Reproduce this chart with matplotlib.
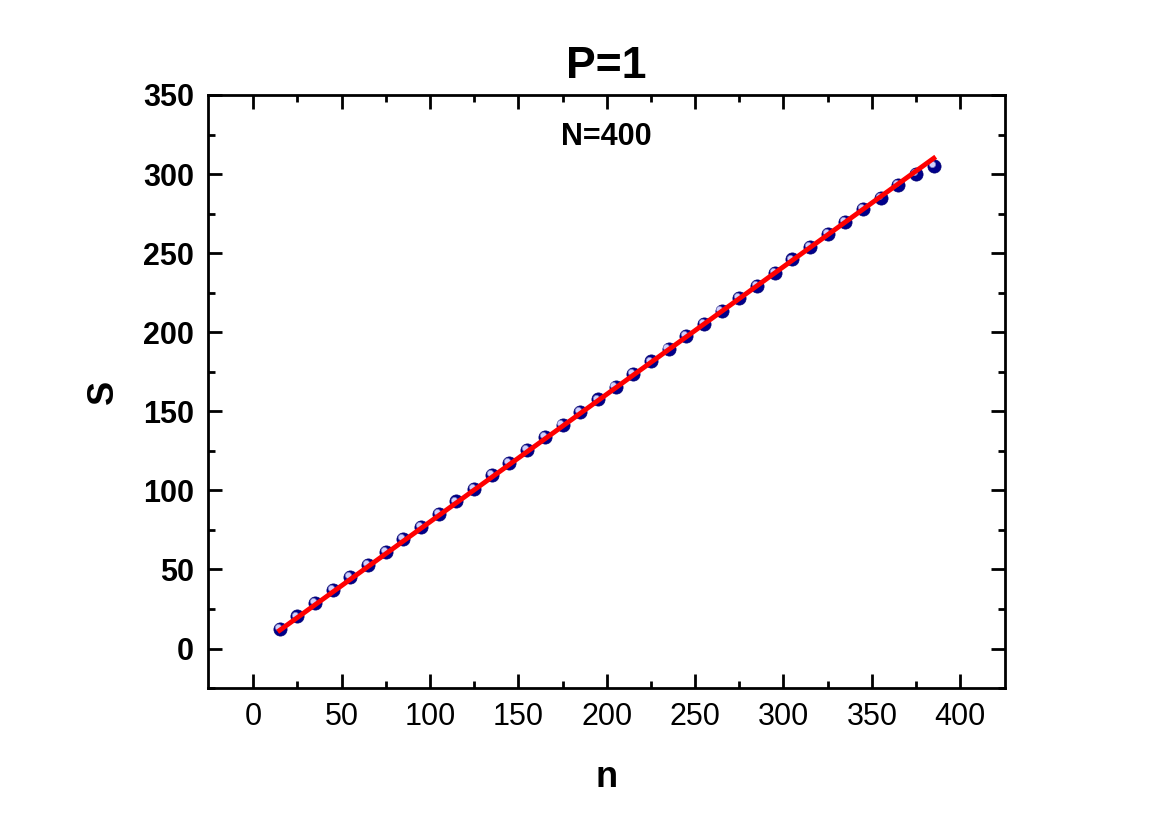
import numpy as np
import matplotlib.pyplot as plt
from matplotlib.ticker import MultipleLocator, FixedLocator

plt.rcParams['font.family'] = ['Liberation Sans', 'DejaVu Sans']

# data
n = [15, 25, 35, 45, 55, 65, 75, 85, 95, 105, 115, 125, 135, 145, 155, 165,
     175, 185, 195, 205, 215, 225, 235, 245, 255, 265, 275, 285, 295, 305,
     315, 325, 335, 345, 355, 365, 375, 385]
S = [12.5, 20.3, 28.7, 37, 45, 53, 61, 69, 77, 85, 93, 101, 109.5, 117.5,
     125.5, 133.5, 141.5, 149.5, 157.5, 165.5, 173.5, 181.5, 189.5, 197.5,
     205.5, 213.5, 221.5, 229.5, 237.5, 246, 254, 262, 270, 278, 285, 293,
     300, 305]
fit_n = [15, 385]
fit_s = [11.5, 310]

fig = plt.figure(figsize=(11.69, 8.26), dpi=100)
ax = fig.add_axes([0.178, 0.167, 0.682, 0.718])

# spheres: dark body + light highlight
ax.plot(n, S, 'o', ms=9.5, color='#00008b', mec='#000070', mew=0.5, zorder=2)
ax.plot(np.array(n) - 1.2, np.array(S) + 1.2, 'o', ms=4.5, color='#d0d0ff',
        mec='#8080c0', mew=0.5, zorder=2.5)
ax.plot(fit_n, fit_s, '-', color='red', lw=3.5, zorder=3)

ax.set_xlim(-25.5, 425.5)
ax.set_ylim(-25, 350)
ax.xaxis.set_major_locator(MultipleLocator(50))
ax.xaxis.set_minor_locator(FixedLocator(np.arange(25, 425, 50)))
ax.yaxis.set_major_locator(MultipleLocator(50))
ax.yaxis.set_minor_locator(FixedLocator(np.arange(-25, 350, 50)))

for sp in ax.spines.values():
    sp.set_linewidth(2)
ax.tick_params(which='both', direction='in', top=True, right=True)
ax.tick_params(which='major', length=10, width=2)
ax.tick_params(which='minor', length=5, width=2)
ax.tick_params(axis='x', labelsize=22, pad=10)
ax.tick_params(axis='y', labelsize=22, pad=10)
for lab in ax.get_yticklabels():
    lab.set_fontweight('bold')

ax.set_xlabel('n', fontsize=26, fontweight='bold', labelpad=20)
ax.set_ylabel('S', fontsize=26, fontweight='bold', labelpad=16)
ax.set_title('P=1', fontsize=32, fontweight='bold', pad=12)
ax.text(0.5, 0.93, 'N=400', transform=ax.transAxes, ha='center', va='center',
        fontsize=22, fontweight='bold')

fig.savefig('out.png', dpi=100)
